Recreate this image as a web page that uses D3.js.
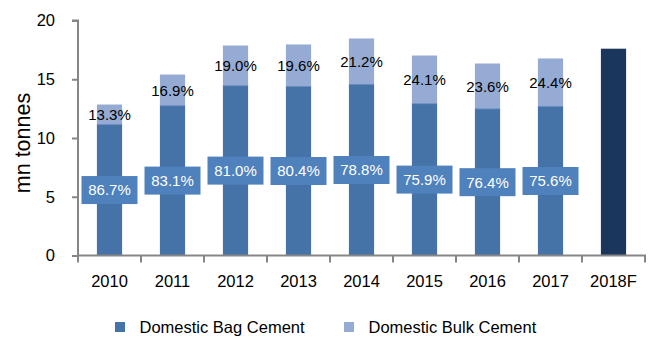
<!DOCTYPE html>
<html>
<head>
<meta charset="utf-8">
<script src="https://cdn.jsdelivr.net/npm/d3@7"></script>
<style>
  html, body { margin: 0; padding: 0; background: #fff; }
  svg { display: block; font-family: "Liberation Sans", Arial, sans-serif; }
</style>
</head>
<body>
<svg id="chart" width="655" height="349"></svg>
<script>
// ---- data (mn tonnes) ----
const categories = ["2010", "2011", "2012", "2013", "2014", "2015", "2016", "2017", "2018F"];
const bagCement  = [11.14, 12.75, 14.45, 14.38, 14.55, 12.92, 12.48, 12.68, null];
const bulkCement = [1.71, 2.65, 3.42, 3.58, 3.92, 4.10, 3.86, 4.09, null];
const forecastTotal = [null, null, null, null, null, null, null, null, 17.6];
const bagShareLabels  = ["86.7%", "83.1%", "81.0%", "80.4%", "78.8%", "75.9%", "76.4%", "75.6%", null];
const bulkShareLabels = ["13.3%", "16.9%", "19.0%", "19.6%", "21.2%", "24.1%", "23.6%", "24.4%", null];
const yTicks = [0, 5, 10, 15, 20];
const seriesNames = ["Domestic Bag Cement", "Domestic Bulk Cement"];

// ---- styling ----
const colBag = "#4572a7", colBulk = "#95abd3", colLabelBox = "#4f81bd", colForecast = "#1b365d", colAxis = "#868686";

const svg = d3.select("#chart");
const x = d3.scaleBand().domain(categories).range([78, 645]).paddingInner(0.6).paddingOuter(0.3);
const y = d3.scaleLinear().domain([0, 20]).range([255.5, 20.5]);

// rows
const rows = categories.map((c, i) => ({
  cat: c, bag: bagCement[i], bulk: bulkCement[i], fc: forecastTotal[i],
  bagLbl: bagShareLabels[i], bulkLbl: bulkShareLabels[i]
}));

const g = svg.append("g");

// bag bars
g.selectAll("rect.bag").data(rows.filter(d => d.bag != null)).join("rect")
  .attr("class", "bag")
  .attr("x", d => x(d.cat)).attr("width", x.bandwidth())
  .attr("y", d => y(d.bag)).attr("height", d => y(0) - y(d.bag))
  .attr("fill", colBag);

// bulk bars
g.selectAll("rect.bulk").data(rows.filter(d => d.bulk != null)).join("rect")
  .attr("class", "bulk")
  .attr("x", d => x(d.cat)).attr("width", x.bandwidth())
  .attr("y", d => y(d.bag + d.bulk)).attr("height", d => y(d.bag) - y(d.bag + d.bulk))
  .attr("fill", colBulk);

// divider line between segments
g.selectAll("line.div").data(rows.filter(d => d.bag != null)).join("line")
  .attr("class", "div")
  .attr("x1", d => x(d.cat)).attr("x2", d => x(d.cat) + x.bandwidth())
  .attr("y1", d => y(d.bag)).attr("y2", d => y(d.bag))
  .attr("stroke", "#6a8bbd").attr("stroke-width", 1);

// forecast bar
g.selectAll("rect.fc").data(rows.filter(d => d.fc != null)).join("rect")
  .attr("class", "fc")
  .attr("x", d => x(d.cat)).attr("width", x.bandwidth())
  .attr("y", d => y(d.fc)).attr("height", d => y(0) - y(d.fc))
  .attr("fill", colForecast);

// axes
const yAxis = d3.axisLeft(y).tickValues(yTicks).tickSize(6).tickPadding(17).tickFormat(d3.format("d"));
const ya = svg.append("g").attr("transform", "translate(78,0)").call(yAxis);
ya.select(".domain").attr("stroke", colAxis).attr("stroke-width", 2).attr("d", `M-6,${y(20)}H0V${y(0)}`);
ya.selectAll(".tick line").attr("stroke", colAxis).attr("stroke-width", 2);
ya.selectAll(".tick text").attr("font-size", 16.5).attr("fill", "#000").attr("font-family", "Liberation Sans, Arial, sans-serif");

// x axis: line + boundary ticks
const xa = svg.append("g");
xa.append("line").attr("x1", 77).attr("x2", 646).attr("y1", y(0)).attr("y2", y(0))
  .attr("stroke", colAxis).attr("stroke-width", 2);
const bounds = categories.map(c => x(c) - x.step() * x.paddingInner() / 2 - (x.bandwidth() * 0));
const step = x.step();
const x0 = x.range()[0];
xa.selectAll("line.tk").data(d3.range(categories.length + 1)).join("line")
  .attr("class", "tk")
  .attr("x1", i => x0 + i * step).attr("x2", i => x0 + i * step)
  .attr("y1", y(0)).attr("y2", y(0) + 7)
  .attr("stroke", colAxis).attr("stroke-width", 2);
xa.selectAll("text").data(categories).join("text")
  .attr("x", d => x(d) + x.bandwidth() / 2).attr("y", 287)
  .attr("text-anchor", "middle").attr("font-size", 16.5).attr("fill", "#000")
  .text(d => d);

// y title
svg.append("text")
  .attr("transform", `translate(30,${143}) rotate(-90)`)
  .attr("text-anchor", "middle").attr("font-size", 21.5).attr("fill", "#000")
  .text("mn tonnes");

// bulk labels
g.selectAll("text.bulkLbl").data(rows.filter(d => d.bulkLbl)).join("text")
  .attr("class", "bulkLbl")
  .attr("x", d => x(d.cat) + x.bandwidth() / 2)
  .attr("y", d => (y(d.bag) + y(d.bag + d.bulk)) / 2)
  .attr("dy", "0.36em")
  .attr("text-anchor", "middle").attr("font-size", 15).attr("fill", "#000")
  .text(d => d.bulkLbl);

// bag labels with box
const lb = g.selectAll("g.bagLbl").data(rows.filter(d => d.bagLbl)).join("g")
  .attr("class", "bagLbl")
  .attr("transform", d => `translate(${x(d.cat) + x.bandwidth() / 2},${(y(0) + y(d.bag)) / 2})`);
lb.append("rect").attr("x", -28).attr("y", -14).attr("width", 56).attr("height", 28).attr("fill", colLabelBox);
lb.append("text").attr("text-anchor", "middle").attr("dy", "0.36em")
  .attr("font-size", 15).attr("fill", "#fff").text(d => d.bagLbl);

// legend
const legendItems = [
  { name: seriesNames[0], color: colBag, sx: 115, tx: 139.5 },
  { name: seriesNames[1], color: colBulk, sx: 344, tx: 368.5 }
];
const leg = svg.append("g");
leg.selectAll("rect").data(legendItems).join("rect")
  .attr("x", d => d.sx).attr("y", 322).attr("width", 10).attr("height", 10).attr("fill", d => d.color);
leg.selectAll("text").data(legendItems).join("text")
  .attr("x", d => d.tx).attr("y", 333).attr("font-size", 16.5).attr("fill", "#000")
  .text(d => d.name);
</script>
</body>
</html>
